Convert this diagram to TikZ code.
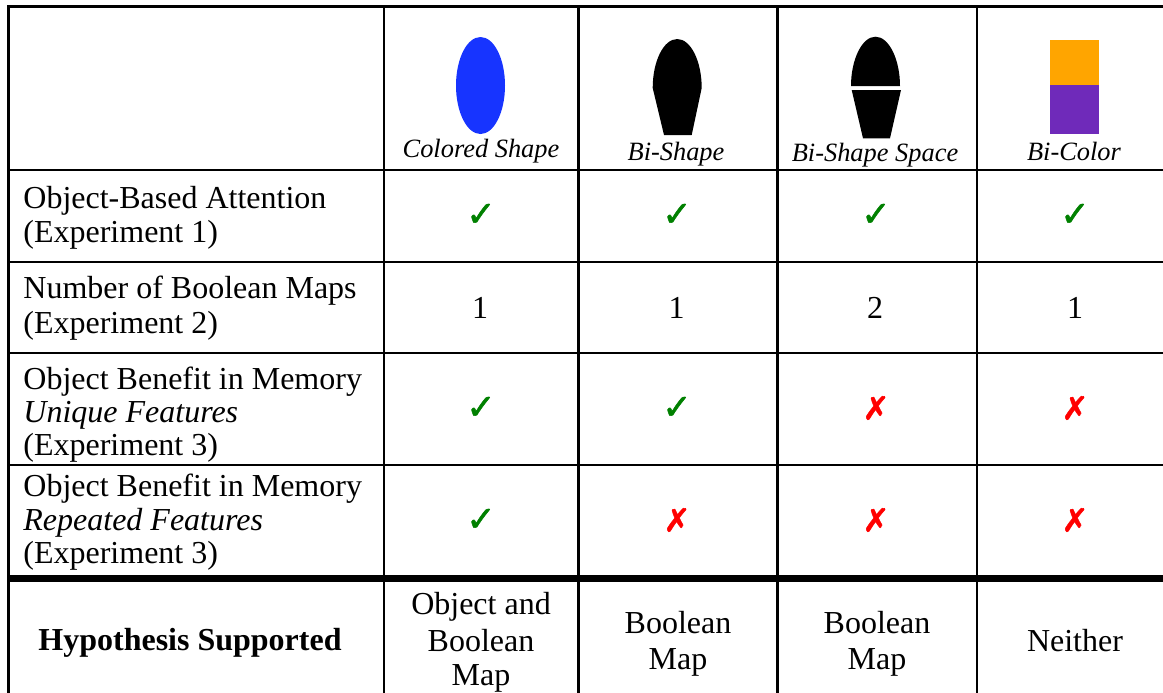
\documentclass[tikz,border=0pt]{standalone}
\usepackage{fontspec}
\setmainfont{Liberation Serif}
\newfontfamily\symfont[FakeBold=1.6]{DejaVu Sans}
\definecolor{shapeblue}{RGB}{23,52,255}
\definecolor{barorange}{RGB}{255,165,0}
\definecolor{barpurple}{RGB}{111,42,186}
\definecolor{okgreen}{RGB}{0,128,0}
\definecolor{nored}{RGB}{255,0,0}
\tikzset{
  rule/.style={line width=1.25pt, line cap=rect},
  heavyrule/.style={line width=3.3pt},
  body/.style={font=\fontsize{16}{17}\selectfont, inner sep=0pt},
  bodyit/.style={font=\fontsize{16}{17}\selectfont\itshape, inner sep=0pt},
  bodybf/.style={font=\fontsize{16}{17}\selectfont\bfseries, inner sep=0pt},
  head/.style={font=\fontsize{13.2}{14}\selectfont\itshape, inner sep=0pt},
  yes/.style={font=\symfont\fontsize{17.5}{17.5}\selectfont, text=okgreen, inner sep=0pt},
  no/.style={font=\symfont\fontsize{16}{16}\selectfont, text=nored, inner sep=0pt}
}
\begin{document}
\begin{tikzpicture}[x=0.5pt,y=-0.5pt]
\useasboundingbox (0,0) rectangle (1163,692);
\clip (0,0) rectangle (1163,692);

% grid
\foreach \gx in {8.3,384,578.5,777.5,977}
  \draw[rule] (\gx,6.7) -- (\gx,720);
\foreach \gy in {6.7,170,262,353,465}
  \draw[rule] (8.3,\gy) -- (1200,\gy);
\draw[heavyrule] (7,578.5) -- (1200,578.5);

% header icons
\fill[shapeblue] (480.5,85.5) ellipse [x radius=24.5, y radius=48.5];
% bi-shape: dome on a tapered base
\fill[black] (664,135) -- (652.7,88)
  .. controls (652.7,61) and (663.7,39) .. (677.2,39)
  .. controls (690.7,39) and (701.7,61) .. (701.7,88)
  -- (691.7,135) -- cycle;
% bi-shape with a gap
\fill[black] (851,86)
  .. controls (851,59.5) and (862,36.7) .. (875.5,36.7)
  .. controls (889,36.7) and (900,59.5) .. (900,86) -- cycle;
\fill[black] (851.7,90) -- (901,90) -- (890,138.3) -- (863,138.3) -- cycle;
% bi-colour bar
\fill[barorange] (1050,40) rectangle (1099,85);
\fill[barpurple] (1050,85) rectangle (1099,134);

% header labels
\node[head, anchor=base] (h1) at (481,157) {Colored Shape};
\node[head, anchor=base] (h2) at (676,160.5) {Bi-Shape};
\node[head, anchor=base] (h3) at (875,161.5) {Bi-Shape Space};
\node[head, anchor=base] (h4) at (1074,160.5) {Bi-Color};

% row labels
\node[body, anchor=base west] (r1a) at (23,208) {Object-Based Attention};
\node[body, anchor=base west] (r1b) at (23,242) {(Experiment 1)};
\node[body, anchor=base west] (r2a) at (23,298) {Number of Boolean Maps};
\node[body, anchor=base west] (r2b) at (23,333) {(Experiment 2)};
\node[body, anchor=base west] (r3a) at (23,389) {Object Benefit in Memory};
\node[bodyit, anchor=base west] (r3b) at (23,422) {Unique Features};
\node[body, anchor=base west] (r3c) at (23,455) {(Experiment 3)};
\node[body, anchor=base west] (r4a) at (23,496) {Object Benefit in Memory};
\node[bodyit, anchor=base west] (r4b) at (23,530) {Repeated Features};
\node[body, anchor=base west] (r4c) at (23,563) {(Experiment 3)};
\node[bodybf, anchor=base] (r5) at (190,650) {Hypothesis Supported};

% row 1
\node[yes] (c11) at (481,215) {✓};
\node[yes] (c12) at (677,215) {✓};
\node[yes] (c13) at (876,215) {✓};
\node[yes] (c14) at (1075,215) {✓};
% row 2
\node[body, anchor=base] (c21) at (480,318) {1};
\node[body, anchor=base] (c22) at (676.5,318) {1};
\node[body, anchor=base] (c23) at (875,318) {2};
\node[body, anchor=base] (c24) at (1075,318) {1};
% row 3
\node[yes] (c31) at (481,408) {✓};
\node[yes] (c32) at (677,408) {✓};
\node[no] (c33) at (876,408) {✗};
\node[no] (c34) at (1075,408) {✗};
% row 4
\node[yes] (c41) at (481,520) {✓};
\node[no] (c42) at (677,520) {✗};
\node[no] (c43) at (876,520) {✗};
\node[no] (c44) at (1075,520) {✗};
% row 5
\node[body, anchor=base] (c51a) at (481,614) {Object and};
\node[body, anchor=base] (c51b) at (481,651) {Boolean};
\node[body, anchor=base] (c51c) at (481,685) {Map};
\node[body, anchor=base] (c52a) at (678,633) {Boolean};
\node[body, anchor=base] (c52b) at (678,669) {Map};
\node[body, anchor=base] (c53a) at (877,633) {Boolean};
\node[body, anchor=base] (c53b) at (877,669) {Map};
\node[body, anchor=base] (c54) at (1075,651) {Neither};
\end{tikzpicture}
\end{document}
